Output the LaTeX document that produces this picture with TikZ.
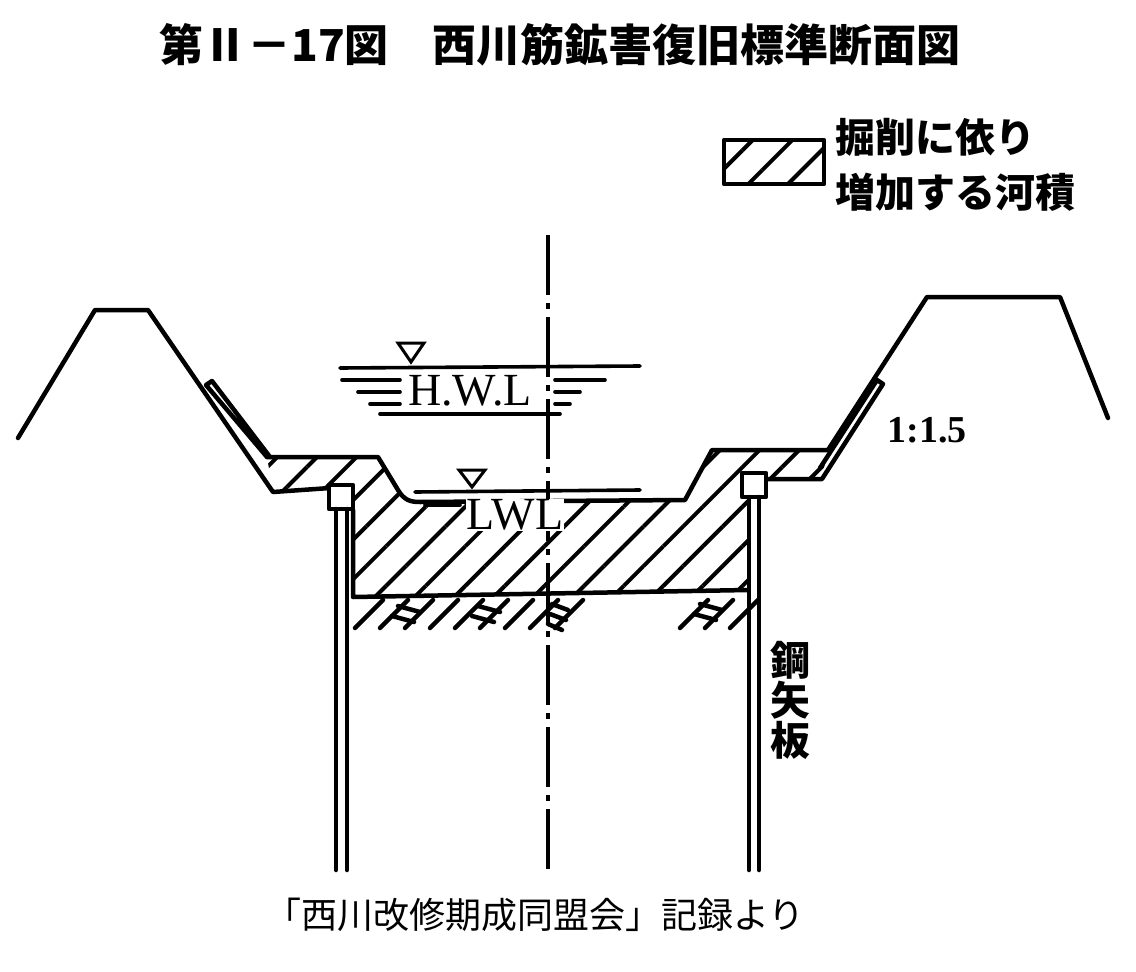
\documentclass[tikz,border=0pt]{standalone}
\usepackage{fontspec}
\newfontfamily\cjk{Noto Sans CJK JP}
\setmainfont{Liberation Serif}
\usetikzlibrary{patterns.meta}
\tikzset{ln/.style={line width=4.5pt,line join=round,line cap=round},
 hat/.style={pattern={Lines[distance=28pt,angle=45,line width=4pt]}},
 wl/.style={line width=3.6pt,line cap=round}}
\begin{document}
\begin{tikzpicture}[x=1pt,y=-1pt]
\useasboundingbox (0,0) rectangle (1136,972);
% title
\node[font=\cjk\bfseries\fontsize{44}{48}\selectfont] (title) at (560,45) {第Ⅱ－17図\quad 西川筋鉱害復旧標準断面図};
% legend
\node[draw,ln,hat,minimum width=100pt,minimum height=44pt] (leg) at (774,162) {};
\node[anchor=west,font=\cjk\bfseries\fontsize{40}{44}\selectfont] (leg1) at (832,137) {掘削に依り};
\node[anchor=west,font=\cjk\bfseries\fontsize{40}{44}\selectfont] (leg2) at (832,192) {増加する河積};
% hatched region
\fill[hat] (273,492) -- (267,457) -- (378,457) -- (398,490) .. controls (404,500) and (410,502) .. (420,502) -- (685,500) -- (712,450) -- (828,450) -- (822,477) -- (767,477) -- (757,497) -- (748,497) -- (748,590) -- (353,597) -- (353,510) -- (330,510) -- (330,488) -- cycle;
% left levee and berm
\draw[ln] (18,438) -- (95,310) -- (148,310) -- (273,492) -- (330,488);
\draw[ln] (267,457) -- (378,457) -- (398,490) .. controls (404,500) and (410,502) .. (420,502) -- (685,500) -- (712,450) -- (828,450) -- (927,297) -- (1060,297) -- (1108,418);
\draw[ln] (267,457) -- (206,385) -- (212,381) -- (270,457);
% right lining
\draw[ln] (767,479) -- (822,479) -- (883,384) -- (877,380) -- (820,468);
% boxes
\node[draw,ln,fill=white,minimum size=24pt,inner sep=0] (boxL) at (341,497) {};
\node[draw,ln,fill=white,minimum size=24pt,inner sep=0] (boxR) at (754,485) {};
% piles
\draw[ln] (336,509) -- (336,870); \draw[ln] (347,509) -- (347,870);
\draw[ln] (749,497) -- (749,870); \draw[ln] (759,497) -- (759,870);
% channel bottom
\draw[ln] (353,510) -- (353,597) -- (748,590);
% lower hatching
\foreach \x in {355,380,405,430,455,480,505,530,555,680,705,730}{\draw[ln] (\x,628) -- (\x+28,600);}
\foreach \x in {390,470}{\draw[ln] (\x+8,606) -- (\x+30,612); \draw[ln] (\x+2,616) -- (\x+24,622);}
\draw[ln] (552,604) -- (568,610); \draw[ln] (550,614) -- (566,620); \draw[ln] (548,624) -- (562,630);
\draw[ln] (700,604) -- (722,610); \draw[ln] (694,614) -- (716,620);
% centre line
\draw[line width=3.4pt,dash pattern=on 60pt off 8pt on 6pt off 8pt] (548,235) -- (548,870);
% HWL
\draw[line width=3pt] (398,343) -- (424,343) -- (411,362) -- cycle;
\draw[wl] (340,368) -- (640,366);
\draw[wl] (342,380) -- (400,380); \draw[wl] (555,380) -- (605,380);
\draw[wl] (358,392) -- (400,392); \draw[wl] (555,392) -- (580,392);
\draw[wl] (370,404) -- (400,404); \draw[wl] (555,404) -- (570,404);
\draw[wl] (380,414) -- (560,414);
\node[font=\fontsize{46}{48}\selectfont,inner sep=1pt] (hwl) at (470,391) {H.W.L};
% LWL
\draw[line width=3pt] (459,470) -- (485,470) -- (472,487) -- cycle;
\draw[wl] (415,492) -- (640,490);
\draw[wl] (425,505) -- (460,505);
\node[font=\fontsize{46}{48}\selectfont,fill=white,inner sep=1pt] (lwl) at (515,515) {LWL};
% labels
\node[font=\bfseries\fontsize{38}{40}\selectfont] (slope) at (927,430) {1:1.5};
\node[font=\cjk\bfseries\fontsize{40}{42}\selectfont,align=center] (koya) at (790,700) {鋼\\[-2pt]矢\\[-2pt]板};
\node[font=\cjk\fontsize{36}{40}\selectfont] (cap) at (535,915) {「西川改修期成同盟会」記録より};
\end{tikzpicture}
\end{document}
